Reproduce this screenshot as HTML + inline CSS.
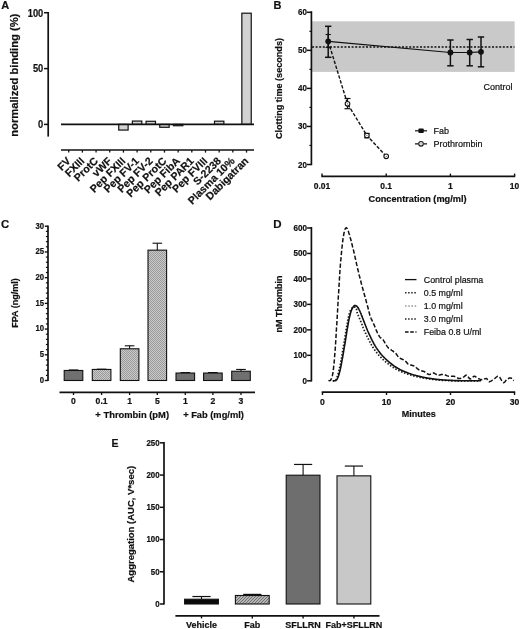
<!DOCTYPE html>
<html><head><meta charset="utf-8"><title>Figure</title>
<style>
html,body{margin:0;padding:0;background:#fff;}
body{width:520px;height:629px;overflow:hidden;font-family:"Liberation Sans",sans-serif;}
svg{display:block;filter:blur(0.35px);}
svg text{font-family:"Liberation Sans",sans-serif;stroke:#111;stroke-width:0.2px;}
</style></head><body>
<svg width="520" height="629" viewBox="0 0 520 629">
<defs>
<pattern id="dots" width="2" height="2" patternUnits="userSpaceOnUse"><rect width="2" height="2" fill="#cacaca"/><rect width="1" height="1" fill="#9a9a9a"/><rect x="1" y="1" width="1" height="1" fill="#9a9a9a"/></pattern>
<pattern id="dotsl" width="2" height="2" patternUnits="userSpaceOnUse"><rect width="2" height="2" fill="#e0e0e0"/><rect width="1" height="1" fill="#a8a8a8"/><rect x="1" y="1" width="1" height="1" fill="#a8a8a8"/></pattern>
<pattern id="hatch" width="3" height="3" patternUnits="userSpaceOnUse"><rect width="3" height="3" fill="#b4b4b4"/><path d="M-1,1 L1,-1 M0,3 L3,0 M2,4 L4,2" stroke="#6a6a6a" stroke-width="0.9"/></pattern>
</defs>
<rect width="520" height="629" fill="#fff"/>

<g id="panelA">
<text x="1.2" y="9.3" font-size="11" font-weight="bold" text-anchor="start" fill="#111">A</text>
<line x1="48.2" y1="12" x2="48.2" y2="136.6" stroke="#111" stroke-width="1.7" stroke-linecap="butt"/>
<line x1="44.0" y1="12.7" x2="48.2" y2="12.7" stroke="#111" stroke-width="1.5" stroke-linecap="butt"/>
<text transform="translate(43.3 16.5) scale(0.88 1)" font-size="10.6" font-weight="bold" text-anchor="end" fill="#111">100</text>
<line x1="44.0" y1="68.6" x2="48.2" y2="68.6" stroke="#111" stroke-width="1.5" stroke-linecap="butt"/>
<text transform="translate(43.3 72.4) scale(0.88 1)" font-size="10.6" font-weight="bold" text-anchor="end" fill="#111">50</text>
<line x1="44.0" y1="124.4" x2="48.2" y2="124.4" stroke="#111" stroke-width="1.5" stroke-linecap="butt"/>
<text transform="translate(43.3 128.2) scale(0.88 1)" font-size="10.6" font-weight="bold" text-anchor="end" fill="#111">0</text>
<text x="18.4" y="75.2" font-size="11.2" font-weight="bold" text-anchor="middle" fill="#111" transform="rotate(-90 18.4 75.2)">normalized binding (%)</text>
<rect x="118.72" y="124.40" width="9.40" height="5.67" fill="#d2d2d2" stroke="#111" stroke-width="1.2"/>
<rect x="132.40" y="121.06" width="9.40" height="3.34" fill="#d2d2d2" stroke="#111" stroke-width="1.2"/>
<rect x="146.08" y="121.29" width="9.40" height="3.11" fill="#d2d2d2" stroke="#111" stroke-width="1.2"/>
<rect x="159.76" y="124.40" width="9.40" height="2.89" fill="#d2d2d2" stroke="#111" stroke-width="1.2"/>
<rect x="173.44" y="124.40" width="9.40" height="1.33" fill="#d2d2d2" stroke="#111" stroke-width="1.2"/>
<rect x="214.48" y="121.18" width="9.40" height="3.22" fill="#d2d2d2" stroke="#111" stroke-width="1.2"/>
<rect x="241.84" y="13.20" width="9.40" height="111.20" fill="#d2d2d2" stroke="#111" stroke-width="1.2"/>
<line x1="61" y1="124.4" x2="254" y2="124.4" stroke="#111" stroke-width="1.6" stroke-linecap="butt"/>
<line x1="61" y1="150" x2="254" y2="150" stroke="#111" stroke-width="1.7" stroke-linecap="butt"/>
<line x1="68.7" y1="150" x2="68.7" y2="152.6" stroke="#111" stroke-width="1.3" stroke-linecap="butt"/>
<text x="71.3" y="161.6" font-size="10.6" font-weight="bold" text-anchor="end" fill="#111" transform="rotate(-45 71.3 161.6)">FV</text>
<line x1="82.38" y1="150" x2="82.38" y2="152.6" stroke="#111" stroke-width="1.3" stroke-linecap="butt"/>
<text x="84.98" y="161.6" font-size="10.6" font-weight="bold" text-anchor="end" fill="#111" transform="rotate(-45 84.98 161.6)">FXIII</text>
<line x1="96.06" y1="150" x2="96.06" y2="152.6" stroke="#111" stroke-width="1.3" stroke-linecap="butt"/>
<text x="98.66" y="161.6" font-size="10.6" font-weight="bold" text-anchor="end" fill="#111" transform="rotate(-45 98.66 161.6)">ProtC</text>
<line x1="109.74000000000001" y1="150" x2="109.74000000000001" y2="152.6" stroke="#111" stroke-width="1.3" stroke-linecap="butt"/>
<text x="112.34" y="161.6" font-size="10.6" font-weight="bold" text-anchor="end" fill="#111" transform="rotate(-45 112.34 161.6)">vWF</text>
<line x1="123.42" y1="150" x2="123.42" y2="152.6" stroke="#111" stroke-width="1.3" stroke-linecap="butt"/>
<text x="126.02" y="161.6" font-size="10.6" font-weight="bold" text-anchor="end" fill="#111" transform="rotate(-45 126.02 161.6)">Pep FXIII</text>
<line x1="137.10000000000002" y1="150" x2="137.10000000000002" y2="152.6" stroke="#111" stroke-width="1.3" stroke-linecap="butt"/>
<text x="139.7" y="161.6" font-size="10.6" font-weight="bold" text-anchor="end" fill="#111" transform="rotate(-45 139.7 161.6)">Pep FV-1</text>
<line x1="150.78" y1="150" x2="150.78" y2="152.6" stroke="#111" stroke-width="1.3" stroke-linecap="butt"/>
<text x="153.38" y="161.6" font-size="10.6" font-weight="bold" text-anchor="end" fill="#111" transform="rotate(-45 153.38 161.6)">Pep FV-2</text>
<line x1="164.45999999999998" y1="150" x2="164.45999999999998" y2="152.6" stroke="#111" stroke-width="1.3" stroke-linecap="butt"/>
<text x="167.06" y="161.6" font-size="10.6" font-weight="bold" text-anchor="end" fill="#111" transform="rotate(-45 167.06 161.6)">Pep ProtC</text>
<line x1="178.14" y1="150" x2="178.14" y2="152.6" stroke="#111" stroke-width="1.3" stroke-linecap="butt"/>
<text x="180.74" y="161.6" font-size="10.6" font-weight="bold" text-anchor="end" fill="#111" transform="rotate(-45 180.74 161.6)">Pep FibA</text>
<line x1="191.82" y1="150" x2="191.82" y2="152.6" stroke="#111" stroke-width="1.3" stroke-linecap="butt"/>
<text x="194.42" y="161.6" font-size="10.6" font-weight="bold" text-anchor="end" fill="#111" transform="rotate(-45 194.42 161.6)">Pep PAR1</text>
<line x1="205.5" y1="150" x2="205.5" y2="152.6" stroke="#111" stroke-width="1.3" stroke-linecap="butt"/>
<text x="208.1" y="161.6" font-size="10.6" font-weight="bold" text-anchor="end" fill="#111" transform="rotate(-45 208.1 161.6)">Pep FVIII</text>
<line x1="219.18" y1="150" x2="219.18" y2="152.6" stroke="#111" stroke-width="1.3" stroke-linecap="butt"/>
<text x="221.78" y="161.6" font-size="10.6" font-weight="bold" text-anchor="end" fill="#111" transform="rotate(-45 221.78 161.6)">S-2238</text>
<line x1="232.86" y1="150" x2="232.86" y2="152.6" stroke="#111" stroke-width="1.3" stroke-linecap="butt"/>
<text x="235.46" y="161.6" font-size="10.6" font-weight="bold" text-anchor="end" fill="#111" transform="rotate(-45 235.46 161.6)">Plasma 10%</text>
<line x1="246.54000000000002" y1="150" x2="246.54000000000002" y2="152.6" stroke="#111" stroke-width="1.3" stroke-linecap="butt"/>
<text x="249.14" y="161.6" font-size="10.6" font-weight="bold" text-anchor="end" fill="#111" transform="rotate(-45 249.14 161.6)">Dabigatran</text>
</g>
<g id="panelB">
<text x="273.5" y="9.3" font-size="11" font-weight="bold" text-anchor="start" fill="#111">B</text>
<rect x="312.00" y="21.30" width="202.60" height="50.60" fill="#c9c9c9" stroke="none" stroke-width="0"/>
<line x1="311.4" y1="11.2" x2="311.4" y2="165.2" stroke="#111" stroke-width="1.7" stroke-linecap="butt"/>
<line x1="306.9" y1="12.3" x2="311.4" y2="12.3" stroke="#111" stroke-width="1.5" stroke-linecap="butt"/>
<text transform="translate(307.0 15.3) scale(0.86 1)" font-size="9.3" font-weight="bold" text-anchor="end" fill="#111">60</text>
<line x1="309.4" y1="31.32" x2="311.4" y2="31.32" stroke="#111" stroke-width="1.2" stroke-linecap="butt"/>
<line x1="306.9" y1="50.35000000000001" x2="311.4" y2="50.35000000000001" stroke="#111" stroke-width="1.5" stroke-linecap="butt"/>
<text transform="translate(307.0 53.35) scale(0.86 1)" font-size="9.3" font-weight="bold" text-anchor="end" fill="#111">50</text>
<line x1="309.4" y1="69.37" x2="311.4" y2="69.37" stroke="#111" stroke-width="1.2" stroke-linecap="butt"/>
<line x1="306.9" y1="88.4" x2="311.4" y2="88.4" stroke="#111" stroke-width="1.5" stroke-linecap="butt"/>
<text transform="translate(307.0 91.4) scale(0.86 1)" font-size="9.3" font-weight="bold" text-anchor="end" fill="#111">40</text>
<line x1="309.4" y1="107.42" x2="311.4" y2="107.42" stroke="#111" stroke-width="1.2" stroke-linecap="butt"/>
<line x1="306.9" y1="126.45" x2="311.4" y2="126.45" stroke="#111" stroke-width="1.5" stroke-linecap="butt"/>
<text transform="translate(307.0 129.45) scale(0.86 1)" font-size="9.3" font-weight="bold" text-anchor="end" fill="#111">30</text>
<line x1="309.4" y1="145.47" x2="311.4" y2="145.47" stroke="#111" stroke-width="1.2" stroke-linecap="butt"/>
<line x1="306.9" y1="164.50000000000003" x2="311.4" y2="164.50000000000003" stroke="#111" stroke-width="1.5" stroke-linecap="butt"/>
<text transform="translate(307.0 167.5) scale(0.86 1)" font-size="9.3" font-weight="bold" text-anchor="end" fill="#111">20</text>
<text x="281.6" y="88.5" font-size="9.1" font-weight="bold" text-anchor="middle" fill="#111" transform="rotate(-90 281.6 88.5)">Clotting time (seconds)</text>
<line x1="321.3" y1="176.3" x2="515.2" y2="176.3" stroke="#111" stroke-width="1.7" stroke-linecap="butt"/>
<line x1="322.0" y1="173.6" x2="322.0" y2="176.3" stroke="#111" stroke-width="1.4" stroke-linecap="butt"/>
<text x="322.0" y="188.6" font-size="8.5" font-weight="bold" text-anchor="middle" fill="#111">0.01</text>
<line x1="386.2" y1="173.6" x2="386.2" y2="176.3" stroke="#111" stroke-width="1.4" stroke-linecap="butt"/>
<text x="386.2" y="188.6" font-size="8.5" font-weight="bold" text-anchor="middle" fill="#111">0.1</text>
<line x1="450.4" y1="173.6" x2="450.4" y2="176.3" stroke="#111" stroke-width="1.4" stroke-linecap="butt"/>
<text x="450.4" y="188.6" font-size="8.5" font-weight="bold" text-anchor="middle" fill="#111">1</text>
<line x1="514.6" y1="173.6" x2="514.6" y2="176.3" stroke="#111" stroke-width="1.4" stroke-linecap="butt"/>
<text x="514.6" y="188.6" font-size="8.5" font-weight="bold" text-anchor="middle" fill="#111">10</text>
<text x="417.5" y="202.3" font-size="9.2" font-weight="bold" text-anchor="middle" fill="#111">Concentration (mg/ml)</text>
<line x1="312" y1="47" x2="514.5" y2="47" stroke="#111" stroke-width="1.3" stroke-dasharray="2 1.6" stroke-linecap="butt"/>
<polyline points="328.2,41.3 450.4,52.5 469.7,52.5 481.0,51.8" fill="none" stroke="#111" stroke-width="1.2"/>
<line x1="328.2" y1="26.3" x2="328.2" y2="57.3" stroke="#111" stroke-width="1.5" stroke-linecap="butt"/>
<line x1="325.0" y1="26.3" x2="331.4" y2="26.3" stroke="#111" stroke-width="1.5" stroke-linecap="butt"/>
<line x1="325.0" y1="57.3" x2="331.4" y2="57.3" stroke="#111" stroke-width="1.5" stroke-linecap="butt"/>
<line x1="450.4" y1="40" x2="450.4" y2="65.8" stroke="#111" stroke-width="1.5" stroke-linecap="butt"/>
<line x1="447.2" y1="40" x2="453.59999999999997" y2="40" stroke="#111" stroke-width="1.5" stroke-linecap="butt"/>
<line x1="447.2" y1="65.8" x2="453.59999999999997" y2="65.8" stroke="#111" stroke-width="1.5" stroke-linecap="butt"/>
<line x1="469.7" y1="39.5" x2="469.7" y2="65.8" stroke="#111" stroke-width="1.5" stroke-linecap="butt"/>
<line x1="466.5" y1="39.5" x2="472.9" y2="39.5" stroke="#111" stroke-width="1.5" stroke-linecap="butt"/>
<line x1="466.5" y1="65.8" x2="472.9" y2="65.8" stroke="#111" stroke-width="1.5" stroke-linecap="butt"/>
<line x1="481.0" y1="37" x2="481.0" y2="66.8" stroke="#111" stroke-width="1.5" stroke-linecap="butt"/>
<line x1="477.8" y1="37" x2="484.2" y2="37" stroke="#111" stroke-width="1.5" stroke-linecap="butt"/>
<line x1="477.8" y1="66.8" x2="484.2" y2="66.8" stroke="#111" stroke-width="1.5" stroke-linecap="butt"/>
<polyline points="328.2,41.3 347.5,103.8 366.9,135.5 386.2,156.3" fill="none" stroke="#111" stroke-width="1.4" stroke-dasharray="3.4 1.7"/>
<line x1="328.2" y1="34.5" x2="328.2" y2="47.5" stroke="#111" stroke-width="1.1" stroke-linecap="butt"/>
<line x1="325.59999999999997" y1="34.5" x2="330.8" y2="34.5" stroke="#111" stroke-width="1.1" stroke-linecap="butt"/>
<line x1="325.59999999999997" y1="47.5" x2="330.8" y2="47.5" stroke="#111" stroke-width="1.1" stroke-linecap="butt"/>
<line x1="347.5" y1="98.5" x2="347.5" y2="108.7" stroke="#111" stroke-width="1.2" stroke-linecap="butt"/>
<line x1="344.5" y1="98.5" x2="350.5" y2="98.5" stroke="#111" stroke-width="1.2" stroke-linecap="butt"/>
<line x1="344.5" y1="108.7" x2="350.5" y2="108.7" stroke="#111" stroke-width="1.2" stroke-linecap="butt"/>
<line x1="366.9" y1="133.4" x2="366.9" y2="137.8" stroke="#111" stroke-width="1.2" stroke-linecap="butt"/>
<line x1="364.09999999999997" y1="133.4" x2="369.7" y2="133.4" stroke="#111" stroke-width="1.2" stroke-linecap="butt"/>
<line x1="364.09999999999997" y1="137.8" x2="369.7" y2="137.8" stroke="#111" stroke-width="1.2" stroke-linecap="butt"/>
<circle cx="347.5" cy="103.8" r="2.3" fill="#fff" stroke="#111" stroke-width="1.1"/>
<circle cx="347.5" cy="103.8" r="0.6" fill="#555"/>
<circle cx="366.9" cy="135.5" r="2.3" fill="#fff" stroke="#111" stroke-width="1.1"/>
<circle cx="366.9" cy="135.5" r="0.6" fill="#555"/>
<circle cx="386.2" cy="156.3" r="2.3" fill="#fff" stroke="#111" stroke-width="1.1"/>
<circle cx="386.2" cy="156.3" r="0.6" fill="#555"/>
<circle cx="328.2" cy="41.3" r="2.9" fill="#111"/>
<circle cx="450.4" cy="52.5" r="2.9" fill="#111"/>
<circle cx="469.7" cy="52.5" r="2.9" fill="#111"/>
<circle cx="481.0" cy="51.8" r="2.9" fill="#111"/>
<text x="483.5" y="89.5" font-size="9" font-weight="normal" text-anchor="start" fill="#111">Control</text>
<line x1="415" y1="130.8" x2="427" y2="130.8" stroke="#111" stroke-width="1.2" stroke-linecap="butt"/>
<rect x="418.4" y="128.6" width="5.4" height="4.4" rx="1" fill="#111"/>
<text x="433.6" y="134" font-size="9" font-weight="normal" text-anchor="start" fill="#111">Fab</text>
<line x1="415" y1="143.8" x2="427" y2="143.8" stroke="#111" stroke-width="1.2" stroke-dasharray="3 1.5" stroke-linecap="butt"/>
<circle cx="421" cy="143.8" r="2.3" fill="#fff" stroke="#111" stroke-width="1.1"/>
<circle cx="421" cy="143.8" r="0.6" fill="#555"/>
<text x="433.6" y="147" font-size="9" font-weight="normal" text-anchor="start" fill="#111">Prothrombin</text>
</g>
<g id="panelC">
<text x="0.9" y="228.0" font-size="11.3" font-weight="bold" text-anchor="start" fill="#111">C</text>
<line x1="48" y1="225.5" x2="48" y2="381" stroke="#111" stroke-width="1.7" stroke-linecap="butt"/>
<line x1="44.8" y1="380.5" x2="48" y2="380.5" stroke="#111" stroke-width="1.4" stroke-linecap="butt"/>
<text transform="translate(44.0 382.9) scale(0.88 1)" font-size="8.8" font-weight="bold" text-anchor="end" fill="#111">0</text>
<line x1="45.9" y1="375.358" x2="48" y2="375.358" stroke="#111" stroke-width="1.2" stroke-linecap="butt"/>
<line x1="45.9" y1="370.216" x2="48" y2="370.216" stroke="#111" stroke-width="1.2" stroke-linecap="butt"/>
<line x1="45.9" y1="365.074" x2="48" y2="365.074" stroke="#111" stroke-width="1.2" stroke-linecap="butt"/>
<line x1="45.9" y1="359.932" x2="48" y2="359.932" stroke="#111" stroke-width="1.2" stroke-linecap="butt"/>
<line x1="44.8" y1="354.79" x2="48" y2="354.79" stroke="#111" stroke-width="1.4" stroke-linecap="butt"/>
<text transform="translate(44.0 357.19) scale(0.88 1)" font-size="8.8" font-weight="bold" text-anchor="end" fill="#111">5</text>
<line x1="45.9" y1="349.648" x2="48" y2="349.648" stroke="#111" stroke-width="1.2" stroke-linecap="butt"/>
<line x1="45.9" y1="344.506" x2="48" y2="344.506" stroke="#111" stroke-width="1.2" stroke-linecap="butt"/>
<line x1="45.9" y1="339.364" x2="48" y2="339.364" stroke="#111" stroke-width="1.2" stroke-linecap="butt"/>
<line x1="45.9" y1="334.222" x2="48" y2="334.222" stroke="#111" stroke-width="1.2" stroke-linecap="butt"/>
<line x1="44.8" y1="329.08" x2="48" y2="329.08" stroke="#111" stroke-width="1.4" stroke-linecap="butt"/>
<text transform="translate(44.0 331.48) scale(0.88 1)" font-size="8.8" font-weight="bold" text-anchor="end" fill="#111">10</text>
<line x1="45.9" y1="323.938" x2="48" y2="323.938" stroke="#111" stroke-width="1.2" stroke-linecap="butt"/>
<line x1="45.9" y1="318.796" x2="48" y2="318.796" stroke="#111" stroke-width="1.2" stroke-linecap="butt"/>
<line x1="45.9" y1="313.654" x2="48" y2="313.654" stroke="#111" stroke-width="1.2" stroke-linecap="butt"/>
<line x1="45.9" y1="308.512" x2="48" y2="308.512" stroke="#111" stroke-width="1.2" stroke-linecap="butt"/>
<line x1="44.8" y1="303.37" x2="48" y2="303.37" stroke="#111" stroke-width="1.4" stroke-linecap="butt"/>
<text transform="translate(44.0 305.77) scale(0.88 1)" font-size="8.8" font-weight="bold" text-anchor="end" fill="#111">15</text>
<line x1="45.9" y1="298.228" x2="48" y2="298.228" stroke="#111" stroke-width="1.2" stroke-linecap="butt"/>
<line x1="45.9" y1="293.086" x2="48" y2="293.086" stroke="#111" stroke-width="1.2" stroke-linecap="butt"/>
<line x1="45.9" y1="287.94399999999996" x2="48" y2="287.94399999999996" stroke="#111" stroke-width="1.2" stroke-linecap="butt"/>
<line x1="45.9" y1="282.802" x2="48" y2="282.802" stroke="#111" stroke-width="1.2" stroke-linecap="butt"/>
<line x1="44.8" y1="277.65999999999997" x2="48" y2="277.65999999999997" stroke="#111" stroke-width="1.4" stroke-linecap="butt"/>
<text transform="translate(44.0 280.06) scale(0.88 1)" font-size="8.8" font-weight="bold" text-anchor="end" fill="#111">20</text>
<line x1="45.9" y1="272.518" x2="48" y2="272.518" stroke="#111" stroke-width="1.2" stroke-linecap="butt"/>
<line x1="45.9" y1="267.376" x2="48" y2="267.376" stroke="#111" stroke-width="1.2" stroke-linecap="butt"/>
<line x1="45.9" y1="262.234" x2="48" y2="262.234" stroke="#111" stroke-width="1.2" stroke-linecap="butt"/>
<line x1="45.9" y1="257.092" x2="48" y2="257.092" stroke="#111" stroke-width="1.2" stroke-linecap="butt"/>
<line x1="44.8" y1="251.95" x2="48" y2="251.95" stroke="#111" stroke-width="1.4" stroke-linecap="butt"/>
<text transform="translate(44.0 254.35) scale(0.88 1)" font-size="8.8" font-weight="bold" text-anchor="end" fill="#111">25</text>
<line x1="45.9" y1="246.808" x2="48" y2="246.808" stroke="#111" stroke-width="1.2" stroke-linecap="butt"/>
<line x1="45.9" y1="241.666" x2="48" y2="241.666" stroke="#111" stroke-width="1.2" stroke-linecap="butt"/>
<line x1="45.9" y1="236.524" x2="48" y2="236.524" stroke="#111" stroke-width="1.2" stroke-linecap="butt"/>
<line x1="45.9" y1="231.38199999999998" x2="48" y2="231.38199999999998" stroke="#111" stroke-width="1.2" stroke-linecap="butt"/>
<line x1="44.8" y1="226.23999999999998" x2="48" y2="226.23999999999998" stroke="#111" stroke-width="1.4" stroke-linecap="butt"/>
<text transform="translate(44.0 228.64) scale(0.88 1)" font-size="8.8" font-weight="bold" text-anchor="end" fill="#111">30</text>
<text x="18" y="303" font-size="9" font-weight="bold" text-anchor="middle" fill="#111" transform="rotate(-90 18 303)">FPA (ng/ml)</text>
<line x1="73.5" y1="369.95889999999997" x2="73.5" y2="370.4731" stroke="#111" stroke-width="1.1" stroke-linecap="butt"/>
<line x1="68.7" y1="369.95889999999997" x2="78.3" y2="369.95889999999997" stroke="#111" stroke-width="1.1" stroke-linecap="butt"/>
<rect x="64.20" y="370.47" width="18.60" height="10.03" fill="#707070" stroke="#111" stroke-width="1.1"/>
<line x1="101.6" y1="369.1876" x2="101.6" y2="369.4447" stroke="#111" stroke-width="1.1" stroke-linecap="butt"/>
<line x1="96.8" y1="369.1876" x2="106.39999999999999" y2="369.1876" stroke="#111" stroke-width="1.1" stroke-linecap="butt"/>
<rect x="92.30" y="369.44" width="18.60" height="11.06" fill="url(#dots)" stroke="#111" stroke-width="1.1"/>
<line x1="129.6" y1="345.7915" x2="129.6" y2="348.77386" stroke="#111" stroke-width="1.1" stroke-linecap="butt"/>
<line x1="124.8" y1="345.7915" x2="134.4" y2="345.7915" stroke="#111" stroke-width="1.1" stroke-linecap="butt"/>
<rect x="120.30" y="348.77" width="18.60" height="31.73" fill="url(#dots)" stroke="#111" stroke-width="1.1"/>
<line x1="157.3" y1="243.2086" x2="157.3" y2="250.1503" stroke="#111" stroke-width="1.1" stroke-linecap="butt"/>
<line x1="152.5" y1="243.2086" x2="162.10000000000002" y2="243.2086" stroke="#111" stroke-width="1.1" stroke-linecap="butt"/>
<rect x="148.00" y="250.15" width="18.60" height="130.35" fill="url(#dots)" stroke="#111" stroke-width="1.1"/>
<line x1="185.3" y1="372.5299" x2="185.3" y2="373.0441" stroke="#111" stroke-width="1.1" stroke-linecap="butt"/>
<line x1="180.5" y1="372.5299" x2="190.10000000000002" y2="372.5299" stroke="#111" stroke-width="1.1" stroke-linecap="butt"/>
<rect x="176.00" y="373.04" width="18.60" height="7.46" fill="#707070" stroke="#111" stroke-width="1.1"/>
<line x1="212.9" y1="372.5299" x2="212.9" y2="373.0441" stroke="#111" stroke-width="1.1" stroke-linecap="butt"/>
<line x1="208.1" y1="372.5299" x2="217.70000000000002" y2="372.5299" stroke="#111" stroke-width="1.1" stroke-linecap="butt"/>
<rect x="203.60" y="373.04" width="18.60" height="7.46" fill="#707070" stroke="#111" stroke-width="1.1"/>
<line x1="241" y1="369.4447" x2="241" y2="371.2444" stroke="#111" stroke-width="1.1" stroke-linecap="butt"/>
<line x1="236.2" y1="369.4447" x2="245.8" y2="369.4447" stroke="#111" stroke-width="1.1" stroke-linecap="butt"/>
<rect x="231.70" y="371.24" width="18.60" height="9.26" fill="#707070" stroke="#111" stroke-width="1.1"/>
<line x1="59.5" y1="392.4" x2="255" y2="392.4" stroke="#111" stroke-width="1.7" stroke-linecap="butt"/>
<line x1="73.5" y1="392.4" x2="73.5" y2="395" stroke="#111" stroke-width="1.3" stroke-linecap="butt"/>
<text x="73.5" y="404.2" font-size="8.6" font-weight="bold" text-anchor="middle" fill="#111">0</text>
<line x1="101.6" y1="392.4" x2="101.6" y2="395" stroke="#111" stroke-width="1.3" stroke-linecap="butt"/>
<text x="101.6" y="404.2" font-size="8.6" font-weight="bold" text-anchor="middle" fill="#111">0.1</text>
<line x1="129.6" y1="392.4" x2="129.6" y2="395" stroke="#111" stroke-width="1.3" stroke-linecap="butt"/>
<text x="129.6" y="404.2" font-size="8.6" font-weight="bold" text-anchor="middle" fill="#111">1</text>
<line x1="157.3" y1="392.4" x2="157.3" y2="395" stroke="#111" stroke-width="1.3" stroke-linecap="butt"/>
<text x="157.3" y="404.2" font-size="8.6" font-weight="bold" text-anchor="middle" fill="#111">5</text>
<line x1="185.3" y1="392.4" x2="185.3" y2="395" stroke="#111" stroke-width="1.3" stroke-linecap="butt"/>
<text x="185.3" y="404.2" font-size="8.6" font-weight="bold" text-anchor="middle" fill="#111">1</text>
<line x1="212.9" y1="392.4" x2="212.9" y2="395" stroke="#111" stroke-width="1.3" stroke-linecap="butt"/>
<text x="212.9" y="404.2" font-size="8.6" font-weight="bold" text-anchor="middle" fill="#111">2</text>
<line x1="241" y1="392.4" x2="241" y2="395" stroke="#111" stroke-width="1.3" stroke-linecap="butt"/>
<text x="241" y="404.2" font-size="8.6" font-weight="bold" text-anchor="middle" fill="#111">3</text>
<text x="132.2" y="418.3" font-size="9.4" font-weight="bold" text-anchor="middle" fill="#111">+ Thrombin (pM)</text>
<text x="213.5" y="418.3" font-size="9.3" font-weight="bold" text-anchor="middle" fill="#111">+ Fab (mg/ml)</text>
</g>
<g id="panelD">
<text x="273.3" y="228.0" font-size="11.5" font-weight="bold" text-anchor="start" fill="#111">D</text>
<line x1="311.4" y1="227" x2="311.4" y2="381.5" stroke="#111" stroke-width="1.7" stroke-linecap="butt"/>
<line x1="307.1" y1="380.8" x2="311.4" y2="380.8" stroke="#111" stroke-width="1.5" stroke-linecap="butt"/>
<text transform="translate(307.0 383.5) scale(0.92 1)" font-size="8.8" font-weight="bold" text-anchor="end" fill="#111">0</text>
<line x1="307.1" y1="355.33000000000004" x2="311.4" y2="355.33000000000004" stroke="#111" stroke-width="1.5" stroke-linecap="butt"/>
<text transform="translate(307.0 358.03) scale(0.92 1)" font-size="8.8" font-weight="bold" text-anchor="end" fill="#111">100</text>
<line x1="307.1" y1="329.86" x2="311.4" y2="329.86" stroke="#111" stroke-width="1.5" stroke-linecap="butt"/>
<text transform="translate(307.0 332.56) scale(0.92 1)" font-size="8.8" font-weight="bold" text-anchor="end" fill="#111">200</text>
<line x1="307.1" y1="304.39" x2="311.4" y2="304.39" stroke="#111" stroke-width="1.5" stroke-linecap="butt"/>
<text transform="translate(307.0 307.09) scale(0.92 1)" font-size="8.8" font-weight="bold" text-anchor="end" fill="#111">300</text>
<line x1="307.1" y1="278.92" x2="311.4" y2="278.92" stroke="#111" stroke-width="1.5" stroke-linecap="butt"/>
<text transform="translate(307.0 281.62) scale(0.92 1)" font-size="8.8" font-weight="bold" text-anchor="end" fill="#111">400</text>
<line x1="307.1" y1="253.45000000000002" x2="311.4" y2="253.45000000000002" stroke="#111" stroke-width="1.5" stroke-linecap="butt"/>
<text transform="translate(307.0 256.15) scale(0.92 1)" font-size="8.8" font-weight="bold" text-anchor="end" fill="#111">500</text>
<line x1="307.1" y1="227.98000000000002" x2="311.4" y2="227.98000000000002" stroke="#111" stroke-width="1.5" stroke-linecap="butt"/>
<text transform="translate(307.0 230.68) scale(0.92 1)" font-size="8.8" font-weight="bold" text-anchor="end" fill="#111">600</text>
<text x="281.5" y="304" font-size="9" font-weight="bold" text-anchor="middle" fill="#111" transform="rotate(-90 281.5 304)">nM Thrombin</text>
<line x1="321.7" y1="392.2" x2="515.2" y2="392.2" stroke="#111" stroke-width="1.7" stroke-linecap="butt"/>
<line x1="322.5" y1="392.2" x2="322.5" y2="395" stroke="#111" stroke-width="1.4" stroke-linecap="butt"/>
<text x="322.5" y="404.6" font-size="8.6" font-weight="bold" text-anchor="middle" fill="#111">0</text>
<line x1="386.5" y1="392.2" x2="386.5" y2="395" stroke="#111" stroke-width="1.4" stroke-linecap="butt"/>
<text x="386.5" y="404.6" font-size="8.6" font-weight="bold" text-anchor="middle" fill="#111">10</text>
<line x1="450.5" y1="392.2" x2="450.5" y2="395" stroke="#111" stroke-width="1.4" stroke-linecap="butt"/>
<text x="450.5" y="404.6" font-size="8.6" font-weight="bold" text-anchor="middle" fill="#111">20</text>
<line x1="514.5" y1="392.2" x2="514.5" y2="395" stroke="#111" stroke-width="1.4" stroke-linecap="butt"/>
<text x="514.5" y="404.6" font-size="8.6" font-weight="bold" text-anchor="middle" fill="#111">30</text>
<text x="418.7" y="417" font-size="9" font-weight="bold" text-anchor="middle" fill="#111">Minutes</text>
<path d="M332.6,380.8 L332.8,380.8 L333.2,380.8 L333.6,380.8 L334.0,380.8 L334.4,380.8 L334.9,380.7 L335.3,380.5 L335.6,380.3 L335.9,380.0 L336.1,379.6 L336.4,379.2 L336.6,378.7 L336.8,378.2 L337.0,377.6 L337.2,376.8 L337.5,376.0 L337.8,375.1 L338.1,374.0 L338.4,372.8 L338.7,371.6 L339.0,370.3 L339.4,368.9 L339.7,367.5 L340.0,366.0 L340.3,364.4 L340.6,362.8 L340.9,361.1 L341.2,359.3 L341.6,357.5 L341.9,355.7 L342.2,353.8 L342.5,352.0 L342.8,350.2 L343.1,348.3 L343.4,346.4 L343.8,344.6 L344.1,342.7 L344.4,340.8 L344.7,338.9 L345.0,337.0 L345.3,335.1 L345.6,333.1 L345.9,331.2 L346.2,329.2 L346.6,327.3 L346.9,325.4 L347.2,323.7 L347.5,322.0 L347.8,320.4 L348.1,318.9 L348.4,317.4 L348.8,316.0 L349.1,314.7 L349.4,313.5 L349.7,312.5 L350.0,311.5 L350.3,310.7 L350.6,310.1 L350.9,309.5 L351.2,309.1 L351.5,308.7 L351.8,308.4 L352.0,308.2 L352.3,307.9 L352.5,307.6 L352.8,307.4 L353.0,307.3 L353.2,307.1 L353.4,307.1 L353.6,307.0 L353.9,307.0 L354.1,307.0 L354.4,307.0 L354.7,307.1 L355.0,307.2 L355.3,307.4 L355.6,307.6 L355.8,307.8 L356.1,308.1 L356.3,308.4 L356.4,308.8 L356.5,309.1 L356.6,309.6 L356.6,310.0 L356.7,310.5 L356.7,311.1 L356.8,311.7 L357.0,312.4 L357.3,313.1 L357.6,314.0 L358.0,314.9 L358.4,315.8 L358.8,316.8 L359.2,317.8 L359.7,318.8 L360.1,319.9 L360.5,320.9 L361.0,322.0 L361.4,323.2 L361.9,324.3 L362.3,325.5 L362.8,326.6 L363.2,327.8 L363.7,328.8 L364.1,329.9 L364.5,330.9 L364.9,331.8 L365.4,332.8 L365.8,333.7 L366.2,334.7 L366.7,335.7 L367.2,336.8 L367.8,337.9 L368.4,339.1 L369.0,340.4 L369.7,341.6 L370.4,342.9 L371.0,344.1 L371.7,345.3 L372.3,346.4 L373.0,347.4 L373.6,348.4 L374.2,349.3 L374.9,350.2 L375.5,351.1 L376.1,352.0 L376.8,352.8 L377.4,353.6 L378.1,354.4 L378.8,355.2 L379.5,355.9 L380.2,356.7 L380.9,357.4 L381.6,358.1 L382.3,358.7 L382.9,359.4 L383.6,360.0 L384.3,360.7 L385.0,361.3 L385.7,361.9 L386.4,362.5 L387.1,363.1 L387.8,363.6 L388.5,364.2 L389.1,364.7 L389.8,365.2 L390.4,365.6 L391.1,366.1 L391.8,366.5 L392.4,367.0 L393.1,367.4 L393.8,367.8 L394.4,368.2 L395.1,368.6 L395.8,369.0 L396.5,369.4 L397.3,369.8 L398.0,370.2 L398.7,370.5 L399.4,370.9 L400.1,371.2 L400.8,371.5 L401.5,371.8 L402.2,372.1 L402.9,372.3 L403.6,372.6 L404.3,372.9 L405.0,373.1 L405.7,373.4 L406.3,373.6 L407.0,373.9 L407.7,374.1 L408.3,374.3 L409.0,374.6 L409.7,374.8 L410.4,375.0 L411.1,375.2 L411.8,375.4 L412.6,375.6 L413.3,375.8 L414.1,375.9 L414.8,376.1 L415.5,376.3 L416.2,376.4 L416.9,376.6 L417.5,376.8 L418.1,376.9 L418.8,377.1 L419.4,377.2 L420.0,377.3 L420.6,377.5 L421.3,377.6 L422.0,377.7 L422.7,377.9 L423.4,378.0 L424.1,378.1 L424.8,378.2 L425.5,378.4 L426.2,378.5 L426.9,378.6 L427.6,378.7 L428.3,378.8 L429.0,378.9 L429.7,379.0 L430.4,379.1 L431.1,379.2 L431.8,379.2 L432.5,379.3 L433.3,379.4 L434.0,379.5 L434.7,379.6 L435.5,379.7 L436.2,379.8 L437.0,379.8 L437.8,379.9 L438.6,380.0 L439.4,380.1 L440.3,380.1 L441.2,380.2 L442.0,380.3 L442.9,380.3 L443.8,380.4 L444.7,380.4 L445.6,380.5 L446.5,380.5 L447.4,380.6 L448.2,380.6 L449.1,380.7 L450.0,380.7 L450.9,380.8 L451.7,380.8 L452.6,380.8 L453.5,380.8 L454.3,380.8 L455.1,380.8 L456.0,380.8 L456.8,380.8 L457.7,380.8 L458.6,380.8 L459.6,380.8 L460.6,380.8 L461.7,380.8 L462.7,380.8 L463.9,380.8 L465.0,380.8 L466.2,380.8 L467.4,380.8 L468.6,380.8 L470.0,380.8 L471.5,380.8 L473.1,380.8 L474.7,380.8 L476.2,380.8 L477.6,380.8 L478.7,380.8 L479.6,380.8" fill="none" stroke="#1c1c1c" stroke-width="1.7" stroke-dasharray="1.5 1.7"/>
<path d="M333.0,380.8 L333.2,380.8 L333.6,380.8 L333.9,380.8 L334.3,380.8 L334.8,380.8 L335.2,380.7 L335.6,380.5 L336.0,380.3 L336.3,380.0 L336.7,379.6 L337.0,379.2 L337.3,378.7 L337.6,378.2 L337.9,377.6 L338.2,376.8 L338.5,376.0 L338.8,375.1 L339.1,374.0 L339.4,372.8 L339.8,371.6 L340.1,370.3 L340.4,368.9 L340.7,367.5 L341.0,366.0 L341.3,364.4 L341.6,362.8 L341.9,361.1 L342.2,359.3 L342.6,357.5 L342.9,355.7 L343.2,353.8 L343.5,352.0 L343.8,350.2 L344.1,348.3 L344.4,346.4 L344.8,344.6 L345.1,342.7 L345.4,340.8 L345.7,338.9 L346.0,337.0 L346.3,335.1 L346.6,333.1 L346.9,331.2 L347.2,329.2 L347.6,327.3 L347.9,325.4 L348.2,323.7 L348.5,322.0 L348.8,320.4 L349.1,318.9 L349.4,317.5 L349.8,316.1 L350.1,314.8 L350.4,313.6 L350.7,312.5 L351.0,311.5 L351.3,310.6 L351.6,309.8 L352.0,309.0 L352.3,308.4 L352.6,307.8 L352.9,307.3 L353.2,306.9 L353.5,306.5 L353.8,306.2 L354.0,305.9 L354.2,305.8 L354.4,305.6 L354.6,305.6 L354.8,305.6 L355.1,305.6 L355.3,305.6 L355.6,305.6 L355.8,305.7 L356.1,305.8 L356.4,306.0 L356.6,306.1 L356.9,306.4 L357.2,306.7 L357.5,307.0 L357.8,307.4 L358.1,307.8 L358.4,308.3 L358.7,308.9 L359.0,309.5 L359.3,310.1 L359.7,310.8 L360.0,311.5 L360.3,312.3 L360.7,313.1 L361.1,314.0 L361.4,315.0 L361.8,315.9 L362.2,316.9 L362.6,318.0 L363.0,319.0 L363.4,320.1 L363.8,321.2 L364.3,322.3 L364.7,323.5 L365.2,324.6 L365.6,325.8 L366.1,326.9 L366.5,328.0 L366.9,329.0 L367.3,330.0 L367.7,331.0 L368.2,332.0 L368.6,332.9 L369.0,333.9 L369.5,334.9 L370.0,336.0 L370.6,337.1 L371.1,338.3 L371.8,339.6 L372.4,340.8 L373.1,342.1 L373.7,343.3 L374.4,344.5 L375.0,345.6 L375.6,346.6 L376.2,347.6 L376.9,348.6 L377.5,349.5 L378.1,350.4 L378.7,351.2 L379.4,352.1 L380.0,352.9 L380.7,353.7 L381.3,354.5 L382.0,355.2 L382.7,356.0 L383.4,356.7 L384.0,357.4 L384.7,358.0 L385.4,358.7 L386.1,359.4 L386.8,360.0 L387.4,360.6 L388.1,361.2 L388.8,361.8 L389.5,362.4 L390.1,363.0 L390.8,363.5 L391.5,364.0 L392.1,364.5 L392.8,365.0 L393.4,365.5 L394.0,365.9 L394.7,366.3 L395.3,366.8 L396.0,367.2 L396.7,367.6 L397.4,368.0 L398.0,368.4 L398.7,368.8 L399.4,369.2 L400.1,369.6 L400.8,370.0 L401.5,370.3 L402.2,370.6 L402.9,370.9 L403.6,371.2 L404.3,371.5 L405.0,371.8 L405.6,372.1 L406.3,372.3 L407.0,372.6 L407.7,372.9 L408.3,373.1 L409.0,373.4 L409.6,373.6 L410.3,373.8 L411.0,374.1 L411.6,374.3 L412.3,374.5 L413.0,374.7 L413.7,374.9 L414.4,375.1 L415.2,375.3 L415.9,375.5 L416.6,375.7 L417.3,375.8 L418.0,376.0 L418.7,376.2 L419.3,376.3 L419.9,376.5 L420.5,376.6 L421.1,376.8 L421.7,376.9 L422.4,377.1 L423.0,377.2 L423.7,377.3 L424.3,377.5 L425.0,377.6 L425.7,377.7 L426.4,377.8 L427.1,378.0 L427.8,378.1 L428.5,378.2 L429.2,378.3 L429.9,378.4 L430.5,378.5 L431.2,378.6 L431.9,378.7 L432.6,378.8 L433.3,378.9 L434.0,379.0 L434.7,379.1 L435.4,379.2 L436.2,379.3 L436.9,379.4 L437.7,379.5 L438.4,379.5 L439.2,379.6 L440.0,379.7 L440.8,379.8 L441.7,379.8 L442.6,379.9 L443.4,380.0 L444.3,380.0 L445.2,380.1 L446.1,380.1 L447.0,380.2 L447.9,380.2 L448.8,380.3 L449.6,380.3 L450.5,380.4 L451.4,380.4 L452.2,380.4 L453.1,380.5 L454.0,380.5 L454.9,380.5 L455.7,380.6 L456.5,380.6 L457.4,380.6 L458.2,380.6 L459.1,380.7 L460.0,380.7 L461.0,380.7 L462.0,380.7 L463.1,380.7 L464.1,380.7 L465.2,380.8 L466.4,380.8 L467.6,380.8 L468.8,380.8 L470.0,380.8 L471.4,380.8 L472.9,380.8 L474.5,380.8 L476.1,380.8 L477.6,380.8 L479.0,380.8 L480.1,380.8 L481.0,380.8" fill="none" stroke="#111" stroke-width="1.6"/>
<path d="M328.5,380.8 L328.7,380.7 L329.0,380.7 L329.3,380.7 L329.6,380.6 L330.0,380.5 L330.4,380.3 L330.7,380.0 L331.0,379.5 L331.3,378.9 L331.5,378.4 L331.8,377.7 L332.0,376.9 L332.3,376.0 L332.5,374.9 L332.8,373.6 L333.0,372.0 L333.2,370.2 L333.5,368.3 L333.7,366.3 L334.0,364.0 L334.2,361.5 L334.5,358.7 L334.7,355.5 L335.0,352.0 L335.3,348.0 L335.6,343.5 L335.9,338.6 L336.2,333.4 L336.5,328.0 L336.9,322.6 L337.2,317.2 L337.5,312.0 L337.8,306.7 L338.1,301.3 L338.4,295.7 L338.8,290.2 L339.1,284.7 L339.4,279.5 L339.7,274.5 L340.0,270.0 L340.3,265.8 L340.6,261.8 L341.0,258.1 L341.3,254.6 L341.6,251.4 L341.9,248.3 L342.2,245.6 L342.5,243.0 L342.8,240.7 L343.0,238.7 L343.3,237.0 L343.6,235.5 L343.8,234.2 L344.0,233.0 L344.3,232.0 L344.5,231.0 L344.7,230.1 L344.9,229.4 L345.2,228.9 L345.4,228.5 L345.6,228.2 L345.8,228.0 L346.0,227.9 L346.2,227.8 L346.4,227.8 L346.6,227.9 L346.8,228.1 L347.0,228.5 L347.3,228.8 L347.5,229.3 L347.7,229.9 L348.0,230.5 L348.3,231.2 L348.6,232.0 L348.8,232.8 L349.1,233.8 L349.5,234.8 L349.8,236.0 L350.1,237.2 L350.5,238.5 L350.9,240.0 L351.3,241.5 L351.7,243.2 L352.2,245.0 L352.6,246.9 L353.1,248.8 L353.6,250.6 L354.0,252.5 L354.4,254.4 L354.9,256.3 L355.3,258.3 L355.8,260.2 L356.2,262.2 L356.6,264.2 L357.1,266.1 L357.5,268.0 L357.9,269.8 L358.4,271.6 L358.8,273.4 L359.2,275.2 L359.7,276.9 L360.1,278.6 L360.6,280.3 L361.0,282.0 L361.4,283.7 L361.9,285.4 L362.3,287.0 L362.8,288.7 L363.2,290.3 L363.7,291.9 L364.1,293.5 L364.5,295.0 L364.9,296.5 L365.3,297.9 L365.7,299.3 L366.1,300.7 L366.4,302.1 L366.8,303.4 L367.2,304.7 L367.5,306.0 L367.8,307.3 L368.2,308.6 L368.5,309.8 L368.8,311.1 L369.1,312.3 L369.4,313.4 L369.7,314.5 L370.0,315.5 L370.3,316.4 L370.6,317.3 L370.9,318.0 L371.2,318.8 L371.6,319.4 L371.9,320.1 L372.2,320.8 L372.5,321.5 L372.8,322.2 L373.1,322.9 L373.4,323.6 L373.8,324.2 L374.1,324.9 L374.4,325.6 L374.7,326.3 L375.0,327.0 L375.3,327.7 L375.6,328.5 L375.9,329.3 L376.2,330.1 L376.6,330.9 L376.9,331.6 L377.2,332.3 L377.5,333.0 L377.8,333.6 L378.1,334.3 L378.4,334.9 L378.8,335.4 L379.1,336.0 L379.4,336.4 L379.7,336.9 L380.0,337.3 L380.3,337.6 L380.6,337.8 L380.9,338.0 L381.2,338.1 L381.5,338.3 L381.8,338.4 L382.2,338.7 L382.5,339.0 L382.8,339.4 L383.2,339.9 L383.6,340.5 L383.9,341.1 L384.3,341.7 L384.7,342.3 L385.0,342.9 L385.4,343.5 L385.7,344.0 L386.1,344.6 L386.4,345.1 L386.7,345.7 L387.0,346.2 L387.3,346.6 L387.7,347.1 L388.0,347.5 L388.3,347.9 L388.7,348.2 L389.0,348.4 L389.4,348.7 L389.7,348.9 L390.1,349.1 L390.5,349.4 L390.8,349.6 L391.1,349.8 L391.5,350.1 L391.8,350.3 L392.2,350.5 L392.5,350.8 L392.8,351.0 L393.2,351.2 L393.5,351.5 L393.8,351.8 L394.2,352.0 L394.5,352.3 L394.9,352.6 L395.2,352.9 L395.6,353.2 L395.9,353.6 L396.2,353.9 L396.5,354.3 L396.8,354.7 L397.1,355.2 L397.4,355.6 L397.7,356.1 L398.0,356.5 L398.2,356.9 L398.5,357.2 L398.8,357.5 L399.0,357.7 L399.2,357.8 L399.5,358.0 L399.7,358.1 L400.0,358.2 L400.2,358.4 L400.5,358.5 L400.8,358.6 L401.1,358.8 L401.4,358.9 L401.7,359.0 L402.0,359.2 L402.4,359.3 L402.7,359.4 L403.0,359.6 L403.3,359.8 L403.6,359.9 L404.0,360.1 L404.3,360.3 L404.6,360.5 L405.0,360.7 L405.3,360.9 L405.6,361.2 L405.9,361.5 L406.2,361.9 L406.5,362.2 L406.8,362.6 L407.1,363.0 L407.4,363.4 L407.7,363.7 L408.0,364.0 L408.3,364.2 L408.5,364.3 L408.8,364.5 L409.0,364.5 L409.2,364.6 L409.5,364.7 L409.7,364.7 L410.0,364.8 L410.3,364.9 L410.6,365.0 L410.9,365.1 L411.2,365.1 L411.5,365.2 L411.9,365.3 L412.2,365.4 L412.5,365.5 L412.8,365.6 L413.1,365.7 L413.4,365.8 L413.7,365.9 L414.0,366.0 L414.3,366.1 L414.7,366.3 L415.0,366.5 L415.4,366.8 L415.7,367.1 L416.1,367.5 L416.5,367.8 L416.9,368.2 L417.3,368.6 L417.7,368.9 L418.0,369.2 L418.3,369.4 L418.6,369.6 L418.9,369.8 L419.1,369.9 L419.4,370.0 L419.7,370.1 L420.0,370.3 L420.4,370.4 L420.8,370.6 L421.3,370.7 L421.8,370.9 L422.4,371.0 L422.9,371.2 L423.5,371.3 L424.0,371.5 L424.4,371.7 L424.8,371.9 L425.1,372.2 L425.5,372.4 L425.8,372.7 L426.1,372.9 L426.4,373.2 L426.7,373.4 L427.0,373.6 L427.3,373.8 L427.7,373.9 L428.0,374.1 L428.3,374.2 L428.6,374.3 L429.0,374.4 L429.4,374.4 L429.8,374.4 L430.3,374.3 L430.7,374.1 L431.2,373.9 L431.8,373.7 L432.3,373.4 L432.9,373.2 L433.4,373.1 L433.9,373.1 L434.4,373.2 L434.9,373.5 L435.3,373.8 L435.8,374.1 L436.3,374.5 L436.8,374.8 L437.3,375.1 L437.9,375.2 L438.5,375.2 L439.2,375.1 L439.8,375.0 L440.5,374.8 L441.2,374.6 L441.9,374.5 L442.6,374.4 L443.3,374.4 L444.0,374.5 L444.7,374.7 L445.3,375.0 L446.0,375.3 L446.7,375.6 L447.4,375.9 L448.0,376.1 L448.7,376.3 L449.4,376.4 L450.0,376.4 L450.7,376.3 L451.3,376.3 L452.0,376.2 L452.7,376.2 L453.3,376.2 L454.0,376.3 L454.7,376.5 L455.4,376.8 L456.1,377.1 L456.8,377.5 L457.5,377.8 L458.1,378.2 L458.8,378.4 L459.4,378.5 L460.0,378.5 L460.5,378.4 L461.1,378.3 L461.6,378.1 L462.1,377.8 L462.6,377.6 L463.0,377.3 L463.5,377.1 L463.9,376.8 L464.4,376.5 L464.8,376.2 L465.1,375.8 L465.5,375.5 L465.9,375.3 L466.3,375.2 L466.7,375.2 L467.1,375.4 L467.5,375.9 L468.0,376.5 L468.4,377.1 L468.8,377.8 L469.3,378.4 L469.7,378.8 L470.2,379.0 L470.7,378.9 L471.2,378.7 L471.7,378.2 L472.2,377.8 L472.7,377.2 L473.2,376.8 L473.7,376.4 L474.2,376.3 L474.7,376.3 L475.2,376.5 L475.7,376.8 L476.3,377.1 L476.8,377.5 L477.3,377.9 L477.8,378.2 L478.3,378.5 L478.8,378.7 L479.3,378.9 L479.8,379.2 L480.3,379.4 L480.8,379.5 L481.3,379.7 L481.8,379.8 L482.3,379.8 L482.8,379.7 L483.4,379.6 L483.9,379.3 L484.4,379.0 L485.0,378.8 L485.5,378.6 L486.0,378.5 L486.4,378.5 L486.8,378.7 L487.1,379.1 L487.4,379.6 L487.7,380.1 L488.0,380.7 L488.3,381.2 L488.6,381.5 L489.0,381.7 L489.4,381.7 L489.9,381.6 L490.4,381.4 L490.9,381.2 L491.4,380.9 L491.9,380.5 L492.5,380.1 L493.1,379.8 L493.7,379.4 L494.4,378.8 L495.1,378.2 L495.8,377.5 L496.5,377.0 L497.2,376.5 L497.8,376.3 L498.5,376.3 L499.1,376.7 L499.8,377.4 L500.4,378.3 L501.0,379.4 L501.6,380.4 L502.2,381.3 L502.8,382.1 L503.3,382.5 L503.8,382.6 L504.2,382.4 L504.6,382.1 L505.0,381.7 L505.4,381.1 L505.8,380.6 L506.2,380.2 L506.6,379.8 L507.1,379.5 L507.6,379.2 L508.1,378.8 L508.6,378.5 L509.1,378.2 L509.6,378.0 L510.1,377.9 L510.6,377.9 L511.1,378.0 L511.5,378.3 L512.0,378.7 L512.4,379.1 L512.9,379.6 L513.2,380.0 L513.6,380.4 L513.8,380.6" fill="none" stroke="#111" stroke-width="1.5" stroke-dasharray="4.4 2"/>
<line x1="405" y1="279.6" x2="416.5" y2="279.6" stroke="#111" stroke-width="1.3" stroke-linecap="butt"/>
<line x1="405" y1="292.8" x2="416.5" y2="292.8" stroke="#222" stroke-width="1.6" stroke-dasharray="1.5 1.6" stroke-linecap="butt"/>
<line x1="405" y1="305.9" x2="416.5" y2="305.9" stroke="#9a9a9a" stroke-width="1.5" stroke-dasharray="1.6 1.6" stroke-linecap="butt"/>
<line x1="405" y1="319.0" x2="416.5" y2="319.0" stroke="#222" stroke-width="1.6" stroke-dasharray="1.5 1.6" stroke-linecap="butt"/>
<line x1="405" y1="332.0" x2="416.5" y2="332.0" stroke="#111" stroke-width="1.4" stroke-dasharray="3.6 1.6" stroke-linecap="butt"/>
<text x="423.8" y="282.90000000000003" font-size="8.85" font-weight="normal" text-anchor="start" fill="#111">Control plasma</text>
<text x="423.8" y="296.1" font-size="8.85" font-weight="normal" text-anchor="start" fill="#111">0.5 mg/ml</text>
<text x="423.8" y="309.2" font-size="8.85" font-weight="normal" text-anchor="start" fill="#111">1.0 mg/ml</text>
<text x="423.8" y="322.3" font-size="8.85" font-weight="normal" text-anchor="start" fill="#111">3.0 mg/ml</text>
<text x="423.8" y="335.3" font-size="8.85" font-weight="normal" text-anchor="start" fill="#111">Feiba 0.8 U/ml</text>
</g>
<g id="panelE">
<text x="111.5" y="447" font-size="10.5" font-weight="bold" text-anchor="start" fill="#111">E</text>
<line x1="164" y1="442" x2="164" y2="604.6" stroke="#111" stroke-width="1.7" stroke-linecap="butt"/>
<line x1="159.9" y1="604.0" x2="164" y2="604.0" stroke="#111" stroke-width="1.5" stroke-linecap="butt"/>
<text transform="translate(159.6 606.9) scale(0.92 1)" font-size="8.6" font-weight="bold" text-anchor="end" fill="#111">0</text>
<line x1="159.9" y1="571.77" x2="164" y2="571.77" stroke="#111" stroke-width="1.5" stroke-linecap="butt"/>
<text transform="translate(159.6 574.67) scale(0.92 1)" font-size="8.6" font-weight="bold" text-anchor="end" fill="#111">50</text>
<line x1="159.9" y1="539.54" x2="164" y2="539.54" stroke="#111" stroke-width="1.5" stroke-linecap="butt"/>
<text transform="translate(159.6 542.44) scale(0.92 1)" font-size="8.6" font-weight="bold" text-anchor="end" fill="#111">100</text>
<line x1="159.9" y1="507.31" x2="164" y2="507.31" stroke="#111" stroke-width="1.5" stroke-linecap="butt"/>
<text transform="translate(159.6 510.21) scale(0.92 1)" font-size="8.6" font-weight="bold" text-anchor="end" fill="#111">150</text>
<line x1="159.9" y1="475.08000000000004" x2="164" y2="475.08000000000004" stroke="#111" stroke-width="1.5" stroke-linecap="butt"/>
<text transform="translate(159.6 477.98) scale(0.92 1)" font-size="8.6" font-weight="bold" text-anchor="end" fill="#111">200</text>
<line x1="159.9" y1="442.85" x2="164" y2="442.85" stroke="#111" stroke-width="1.5" stroke-linecap="butt"/>
<text transform="translate(159.6 445.75) scale(0.92 1)" font-size="8.6" font-weight="bold" text-anchor="end" fill="#111">250</text>
<text x="133.8" y="524.2" font-size="9.5" font-weight="bold" text-anchor="middle" fill="#111" transform="rotate(-90 133.8 524.2)">Aggregation (AUC, V*sec)</text>
<line x1="201.5" y1="596.52264" x2="201.5" y2="599.22996" stroke="#111" stroke-width="1.1" stroke-linecap="butt"/>
<line x1="192.4" y1="596.52264" x2="210.6" y2="596.52264" stroke="#111" stroke-width="1.2" stroke-linecap="butt"/>
<rect x="184.60" y="599.23" width="33.80" height="4.77" fill="#0a0a0a" stroke="#111" stroke-width="1.1"/>
<line x1="252.3" y1="594.39546" x2="252.3" y2="595.49128" stroke="#111" stroke-width="1.1" stroke-linecap="butt"/>
<line x1="243.20000000000002" y1="594.39546" x2="261.40000000000003" y2="594.39546" stroke="#111" stroke-width="1.2" stroke-linecap="butt"/>
<rect x="235.40" y="595.49" width="33.80" height="8.51" fill="url(#hatch)" stroke="#111" stroke-width="1.1"/>
<line x1="303.1" y1="464.44410000000005" x2="303.1" y2="475.20892000000003" stroke="#111" stroke-width="1.1" stroke-linecap="butt"/>
<line x1="294.0" y1="464.44410000000005" x2="312.20000000000005" y2="464.44410000000005" stroke="#111" stroke-width="1.2" stroke-linecap="butt"/>
<rect x="286.20" y="475.21" width="33.80" height="128.79" fill="#6e6e6e" stroke="#111" stroke-width="1.1"/>
<line x1="353.9" y1="466.0556" x2="353.9" y2="475.85352" stroke="#111" stroke-width="1.1" stroke-linecap="butt"/>
<line x1="344.79999999999995" y1="466.0556" x2="363.0" y2="466.0556" stroke="#111" stroke-width="1.2" stroke-linecap="butt"/>
<rect x="337.00" y="475.85" width="33.80" height="128.15" fill="#c8c8c8" stroke="#111" stroke-width="1.1"/>
<line x1="175.4" y1="615.8" x2="379.5" y2="615.8" stroke="#111" stroke-width="1.7" stroke-linecap="butt"/>
<line x1="201.5" y1="615.8" x2="201.5" y2="618.4" stroke="#111" stroke-width="1.4" stroke-linecap="butt"/>
<text x="201.5" y="627.5" font-size="9" font-weight="bold" text-anchor="middle" fill="#111">Vehicle</text>
<line x1="252.3" y1="615.8" x2="252.3" y2="618.4" stroke="#111" stroke-width="1.4" stroke-linecap="butt"/>
<text x="252.3" y="627.5" font-size="9" font-weight="bold" text-anchor="middle" fill="#111">Fab</text>
<line x1="303.1" y1="615.8" x2="303.1" y2="618.4" stroke="#111" stroke-width="1.4" stroke-linecap="butt"/>
<text x="303.1" y="627.5" font-size="9" font-weight="bold" text-anchor="middle" fill="#111">SFLLRN</text>
<line x1="353.9" y1="615.8" x2="353.9" y2="618.4" stroke="#111" stroke-width="1.4" stroke-linecap="butt"/>
<text x="353.9" y="627.5" font-size="9" font-weight="bold" text-anchor="middle" fill="#111">Fab+SFLLRN</text>
</g>
</svg></body></html>
